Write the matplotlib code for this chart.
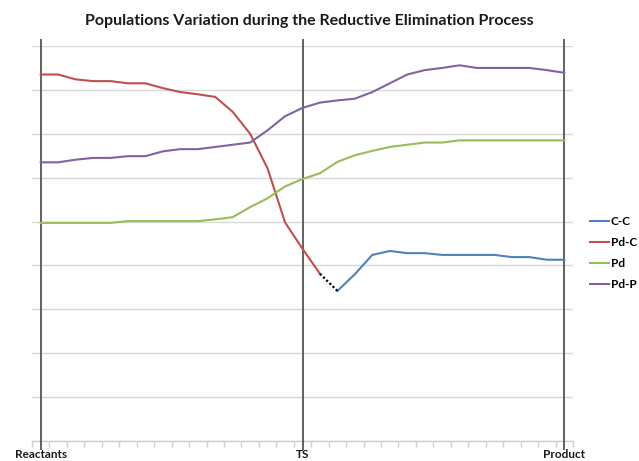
import numpy as np
import matplotlib
matplotlib.use("Agg")
import matplotlib.pyplot as plt

nan = np.nan

category_labels = ["Reactants"] + [""] * 14 + ["TS"] + [""] * 14 + ["Product"]
marked_points = [0, 15, 30]

cc = [nan] * 17 + [3.42, 3.80, 4.24, 4.33, 4.28, 4.28, 4.24, 4.24, 4.24, 4.24,
                   4.19, 4.19, 4.13, 4.13]
pdc = [8.35, 8.35, 8.24, 8.20, 8.20, 8.15, 8.15, 8.04, 7.95, 7.90, 7.84, 7.50,
       7.00, 6.21, 4.98, 4.38, 3.81] + [nan] * 14
pd_ = [4.97, 4.97, 4.97, 4.97, 4.97, 5.01, 5.01, 5.01, 5.01, 5.01, 5.05, 5.10,
       5.33, 5.53, 5.80, 5.97, 6.10, 6.36, 6.51, 6.61, 6.70, 6.75, 6.80, 6.80,
       6.85, 6.85, 6.85, 6.85, 6.85, 6.85, 6.85]
pdp = [6.35, 6.35, 6.41, 6.45, 6.45, 6.49, 6.49, 6.60, 6.65, 6.65, 6.70, 6.75,
       6.80, 7.08, 7.40, 7.59, 7.71, 7.76, 7.80, 7.95, 8.15, 8.35, 8.45, 8.50,
       8.56, 8.50, 8.50, 8.50, 8.50, 8.45, 8.39]
link = [nan] * 16 + [3.81, 3.42] + [nan] * 13

plt.rcParams['font.family'] = ['Lato', 'DejaVu Sans']

fig = plt.figure(figsize=(6.39, 4.61), dpi=100)
ax = fig.add_axes([32 / 639, 20 / 461, 541 / 639, 395 / 461])

x = np.arange(len(category_labels))

ax.set_xlim(-0.5, len(category_labels) - 0.5)
ax.set_ylim(0, 9)
ax.set_yticks(np.arange(0, 10))
ax.yaxis.grid(True, color="#d9d9d9", linewidth=1.0)
ax.set_axisbelow(True)
ax.tick_params(axis="y", left=False, labelleft=False)

for s in ["top", "right", "left"]:
    ax.spines[s].set_visible(False)
ax.spines["bottom"].set_color("#d0d0d0")
ax.spines["bottom"].set_linewidth(1.0)

ax.set_xticks(x)
ax.set_xticklabels(category_labels, fontsize=8.5, fontweight="bold", color="#1a1a1a")
ax.tick_params(axis="x", length=0, pad=6)
ax.set_xticks(np.arange(-0.5, len(category_labels)), minor=True)
ax.tick_params(axis="x", which="minor", length=4, color="#d0d0d0", width=1.0)

vl = ax.vlines(marked_points, -0.2, 9.16, colors="#555555", linewidth=1.3, zorder=3)
vl.set_clip_on(False)

lw = 1.5
l1, = ax.plot(x, cc, color="#4F81BD", linewidth=lw, label="C-C", zorder=4)
l2, = ax.plot(x, pdc, color="#C0504D", linewidth=lw, label="Pd-C", zorder=4)
l3, = ax.plot(x, pd_, color="#9BBB59", linewidth=lw, label="Pd", zorder=4)
l4, = ax.plot(x, pdp, color="#8064A2", linewidth=lw, label="Pd-P", zorder=4)
ax.plot(x, link, color="black", linewidth=1.6, linestyle=(0, (1, 1)), zorder=4)

fig.legend(handles=[l1, l2, l3, l4], loc="upper left",
           bbox_to_anchor=(590 / 639, 1 - 216 / 461), frameon=False,
           prop={"size": 8.5, "weight": "bold"}, handlelength=1.6,
           handletextpad=0.15, labelspacing=0.85, borderaxespad=0, borderpad=0)

fig.text(309.5 / 639, 1 - 21 / 461,
         "Populations Variation during the Reductive Elimination Process",
         ha="center", va="center", fontsize=11.5, fontweight="bold", color="#1a1a1a")

fig.savefig("out.png", dpi=100)
